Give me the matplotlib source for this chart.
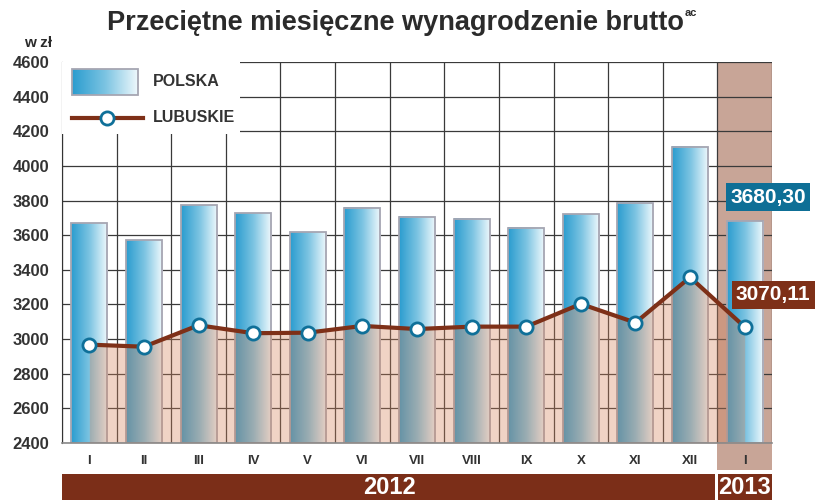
import matplotlib
matplotlib.use("Agg")
import matplotlib.pyplot as plt
import numpy as np
from matplotlib.patches import Rectangle
from matplotlib.colors import LinearSegmentedColormap
from matplotlib.transforms import blended_transform_factory

plt.rcParams['font.family'] = ['Liberation Sans', 'DejaVu Sans']

months = ["I", "II", "III", "IV", "V", "VI", "VII", "VIII", "IX", "X", "XI", "XII", "I"]
polska = [3670, 3572, 3774, 3726, 3618, 3757, 3705, 3694, 3642, 3722, 3786, 4111, 3680.30]
lubuskie = [2968, 2956, 3080, 3034, 3037, 3076, 3058, 3072, 3072, 3203, 3095, 3357, 3070.11]
years = ["2012", "2013"]
yticks = [2400, 2600, 2800, 3000, 3200, 3400, 3600, 3800, 4000, 4200, 4400, 4600]

fig = plt.figure(figsize=(8.16, 5.0), dpi=100)
ax = fig.add_axes([62/816, 57/500, 710/816, 381/500])
ymin, ymax = 2400, 4600
n = len(months)
ax.set_xlim(-0.5, n - 0.5)
ax.set_ylim(ymin, ymax)

xs = np.arange(n)
bw = 0.66
cmap = LinearSegmentedColormap.from_list("bar", ["#2a9ccf", "#7cc4e2", "#f2fafd"])
grad = np.linspace(0, 1, 256).reshape(1, -1)

trans_xf = blended_transform_factory(ax.transData, fig.transFigure)

# 2013 column shading
ax.add_patch(Rectangle((n - 1.5, 30/500), 1.0, 1 - 30/500 - 62/500, transform=trans_xf,
                       facecolor="#c8a597", edgecolor="none", zorder=0, clip_on=False))

# grid
for y in yticks:
    ax.axhline(y, color="#3a3a3a", lw=0.9, zorder=0.5)
for k in range(n + 1):
    ax.axvline(k - 0.5, color="#3a3a3a", lw=0.9, zorder=0.5)

# bars with gradient
for x, v in zip(xs, polska):
    ax.imshow(grad, cmap=cmap, extent=[x - bw/2, x + bw/2, ymin, v], aspect="auto",
              zorder=1, interpolation="bilinear")
    ax.add_patch(Rectangle((x - bw/2, ymin), bw, v - ymin, facecolor="none",
                           edgecolor="#a6a6b2", lw=1.3, zorder=1.1))

# area under line
ax.fill_between(xs, lubuskie, ymin, color="#d4825a", alpha=0.35, lw=0, zorder=2)
ax.plot(xs, lubuskie, color="#7e3018", lw=3, zorder=3, solid_joinstyle="round")
ax.plot(xs, lubuskie, ls="none", marker="o", ms=9.5, mfc="white", mec="#0f7099", mew=2, zorder=4)

ax.set_xlim(-0.5, n - 0.5)
ax.set_ylim(ymin, ymax)

# legend (manual)
ax.add_patch(Rectangle((-0.5, 4184), 3.26, 416, facecolor="white", edgecolor="none", zorder=5))
ax.imshow(grad, cmap=cmap, extent=[-0.317, 0.892, 4410, 4560], aspect="auto", zorder=6)
ax.add_patch(Rectangle((-0.317, 4410), 1.209, 150, facecolor="none", edgecolor="#a6a6b2", lw=1.3, zorder=6.1))
ax.plot([-0.317, 0.983], [4277, 4277], color="#7e3018", lw=3, zorder=6)
ax.plot([0.324], [4277], ls="none", marker="o", ms=9.5, mfc="white", mec="#0f7099", mew=2, zorder=7)
ax.text(1.167, 4485, "POLSKA", fontsize=11.5, fontweight="bold", color="#333333", va="center", zorder=7)
ax.text(1.167, 4277, "LUBUSKIE", fontsize=11.5, fontweight="bold", color="#333333", va="center", zorder=7)
ax.set_xlim(-0.5, n - 0.5)
ax.set_ylim(ymin, ymax)

# value labels
ax.text(12.43, 3820, "3680,30", fontsize=15, fontweight="bold", color="white",
        ha="center", va="center", zorder=8, clip_on=False,
        bbox=dict(boxstyle="square,pad=0.2", facecolor="#0e6f96", edgecolor="none"))
ax.text(12.52, 3255, "3070,11", fontsize=15, fontweight="bold", color="white",
        ha="center", va="center", zorder=8, clip_on=False,
        bbox=dict(boxstyle="square,pad=0.2", facecolor="#7e3018", edgecolor="none"))

# axes styling
for s in ["top", "right"]:
    ax.spines[s].set_visible(False)
ax.spines["left"].set_color("#333333")
ax.spines["bottom"].set_color("#8a8a8a")
ax.spines["bottom"].set_linewidth(1.2)
ax.set_yticks(yticks)
ax.set_yticklabels([str(t) for t in yticks], fontsize=12, fontweight="bold", color="#333333")
ax.set_xticks(xs)
ax.set_xticklabels(months, fontsize=9.5, fontweight="bold", color="#333333")
ax.tick_params(axis="both", length=0)
ax.tick_params(axis="y", pad=9)
ax.tick_params(axis="x", pad=9)

# year bar
ax.add_patch(Rectangle((-0.5, 0), 11.95, 26/500, transform=trans_xf, facecolor="#7b2e18",
                       edgecolor="none", clip_on=False, zorder=5))
ax.add_patch(Rectangle((11.52, 0), 0.98, 26/500, transform=trans_xf, facecolor="#7b2e18",
                       edgecolor="none", clip_on=False, zorder=5))
ax.text(5.5, 12/500, years[0], transform=trans_xf, fontsize=17, fontweight="bold", color="white",
        ha="center", va="center", zorder=6)
ax.text(12.0, 12/500, years[1], transform=trans_xf, fontsize=17, fontweight="bold", color="white",
        ha="center", va="center", zorder=6)

# title
title = fig.text(395/816, 1 - 23/500, "Przeciętne miesięczne wynagrodzenie brutto", fontsize=19.5,
                 fontweight="bold", color="#2b2b2b", ha="center", va="center")
fig.canvas.draw()
bb = title.get_window_extent()
fig.text((bb.x1 + 1) / 816, 1 - 13/500, "ac", fontsize=8, fontweight="bold", color="#2b2b2b",
         ha="left", va="center")
fig.text(52/816, 1 - 43/500, "w zł", fontsize=11, fontweight="bold", color="#2b2b2b",
         ha="right", va="center")

fig.savefig("out.png", dpi=100)
